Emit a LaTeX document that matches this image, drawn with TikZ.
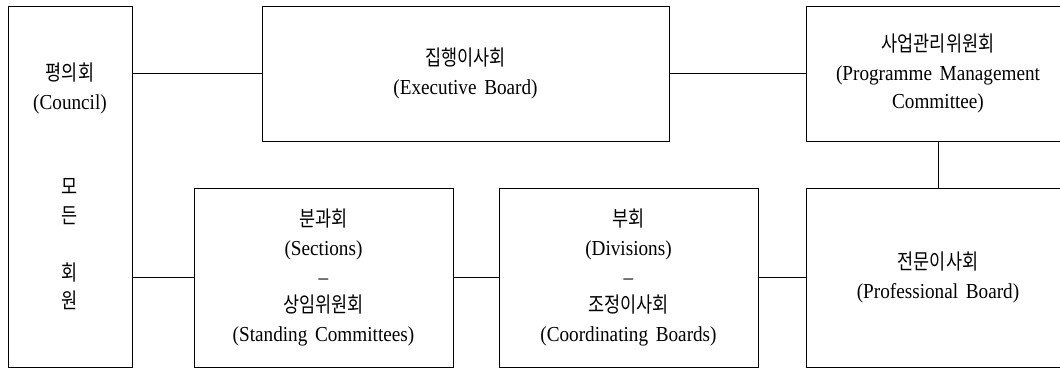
\documentclass[tikz,border=0pt]{standalone}
\usepackage{fontspec}
\setmainfont{Liberation Serif}[FakeStretch=0.9, WordSpace=1.6]
\newfontfamily\kr{Noto Sans CJK KR}[FakeStretch=0.82]
\usepackage{tikz}
\usetikzlibrary{calc}

\begin{document}
\begin{tikzpicture}[
    x=0.75pt, y=-0.75pt,
    org/.style={draw, line width=0.75pt, inner sep=0pt, outer sep=0pt, align=center,
        font=\fontsize{16}{21.4}\selectfont},
    link/.style={line width=0.75pt}
]
\useasboundingbox (0,0) rectangle (1060,368);
\clip (0,0) rectangle (1060,368);

\node[org, minimum width=93pt, minimum height=270.75pt] (council) at (70, 186.5)
    {{\kr 평의회}\\(Council)\\ \mbox{}\\ \mbox{}\\{\kr 모}\\{\kr 든}\\ \mbox{}\\{\kr 회}\\{\kr 원}};
\node[org, minimum width=305.25pt, minimum height=101.25pt] (exec) at (465.5, 73.5)
    {{\kr 집행이사회}\\(Executive Board)};
\node[org, minimum width=198pt, minimum height=101.25pt] (pmc) at (938, 73.5)
    {{\kr 사업관리위원회}\\(Programme Management\\Committee)};

\node[org, minimum width=194.25pt, minimum height=134.25pt] (sect) at (323.5, 277.5)
    {{\kr 분과회}\\(Sections)\\–\\{\kr 상임위원회}\\(Standing Committees)};
\node[org, minimum width=194.25pt, minimum height=134.25pt] (div) at (628.5, 277.5)
    {{\kr 부회}\\(Divisions)\\–\\{\kr 조정이사회}\\(Coordinating Boards)};
\node[org, minimum width=198pt, minimum height=134.25pt] (prof) at (938, 277.5)
    {{\kr 전문이사회}\\(Professional Board)};

% top row
\draw[link] (exec.west -| council.east) -- (exec.west);
\draw[link] (exec) -- (pmc);
\draw[link] (pmc) -- (prof);

% bottom row
\draw[link] (sect.west -| council.east) -- (sect.west);
\draw[link] (sect) -- (div);
\draw[link] (div) -- (prof);

\end{tikzpicture}
\end{document}
